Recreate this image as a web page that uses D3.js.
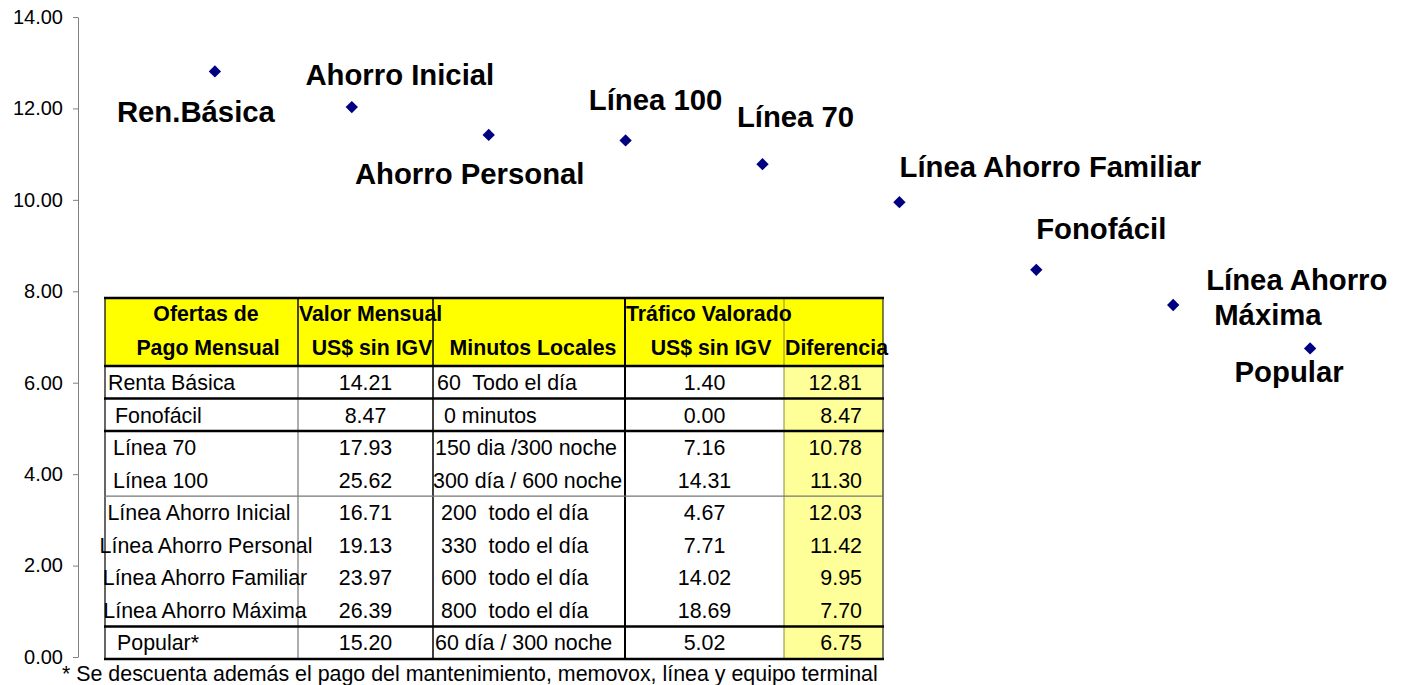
<!DOCTYPE html>
<html>
<head>
<meta charset="utf-8">
<script src="https://cdn.jsdelivr.net/npm/d3@7"></script>
<style>
  body { margin: 0; background: #fff; }
  svg { font-family: "Liberation Sans", Arial, sans-serif; }
  text { white-space: pre; }
</style>
</head>
<body>
<svg width="1405" height="685"></svg>
<script>
// scatter: difference per plan, in descending order
var puntos = ["Ren.Básica", "Ahorro Inicial", "Ahorro Personal", "Línea 100", "Línea 70",
	"Línea Ahorro Familiar", "Fonofácil", "Línea Ahorro|Máxima", "Popular"];
var puntosValor = [12.81, 12.03, 11.42, 11.30, 10.78, 9.95, 8.47, 7.70, 6.75];
var yTicks = [0, 2, 4, 6, 8, 10, 12, 14];

// table
var encabezado1 = ["Ofertas de", "Valor Mensual", "", "Tráfico Valorado", ""];
var encabezado2 = ["Pago Mensual", "US$ sin IGV", "Minutos Locales", "US$ sin IGV", "Diferencia"];
var planes = ["Renta Básica", "Fonofácil", "Línea 70", "Línea 100", "Línea Ahorro Inicial",
	"Línea Ahorro Personal", "Línea Ahorro Familiar", "Línea Ahorro Máxima", "Popular*"];
var valorMensual = [14.21, 8.47, 17.93, 25.62, 16.71, 19.13, 23.97, 26.39, 15.20];
var minutos = ["60  Todo el día", "0 minutos", "150 dia /300 noche", "300 día / 600 noche",
	"200  todo el día", "330  todo el día", "600  todo el día", "800  todo el día", "60 día / 300 noche"];
var trafico = [1.40, 0.00, 7.16, 14.31, 4.67, 7.71, 14.02, 18.69, 5.02];
var diferencia = [12.81, 8.47, 10.78, 11.30, 12.03, 11.42, 9.95, 7.70, 6.75];
var nota = "* Se descuenta además el pago del mantenimiento, memovox, línea y equipo terminal";

// label placement (pixel offsets from each point)
var labelDx = [-19, 48, -19, 30, 33, 151, 65, 33, -21];
var labelDy = [51, -22, 49, -30, -37, -25, -31, -15, 34];

var svg = d3.select("svg");
var fmt = d3.format(".2f");

var x = d3.scaleLinear().domain([0, 10]).range([78, 1447]);
var y = d3.scaleLinear().domain([0, 14]).range([657, 17]);

var yAxis = svg.append("g")
	.attr("transform", "translate(78,0)")
	.call(d3.axisLeft(y).tickValues(yTicks).tickFormat(fmt).tickSize(5).tickSizeOuter(0));
yAxis.select(".domain").attr("stroke", "#808080");
yAxis.selectAll(".tick line").attr("stroke", "#808080");
yAxis.selectAll(".tick text")
	.attr("font-family", "Liberation Sans, Arial")
	.attr("font-size", 20)
	.attr("fill", "#000")
	.attr("x", -15);

// ---- table ----
var colX = [105, 298, 433, 625, 784, 883];
var headTop = 298, bodyTop = 366, bodyBottom = 659;
var row = d3.scaleBand().domain(d3.range(planes.length)).range([bodyTop, bodyBottom]);
var tbl = svg.append("g");

tbl.append("rect").attr("x", colX[0]).attr("y", headTop)
	.attr("width", colX[5] - colX[0]).attr("height", bodyTop - headTop).attr("fill", "#ffff00");
tbl.append("rect").attr("x", colX[4]).attr("y", bodyTop)
	.attr("width", colX[5] - colX[4]).attr("height", bodyBottom - bodyTop).attr("fill", "#ffff99");

// vertical lines
var vStyle = [["#000", 1.2], ["#777", 1.2], ["#000", 1.5], ["#000", 2], ["#8a8a40", 1], ["#000", 1]];
colX.forEach(function(cx, i) {
	tbl.append("line").attr("x1", cx).attr("x2", cx).attr("y1", headTop).attr("y2", bodyBottom)
		.attr("stroke", vStyle[i][0]).attr("stroke-width", vStyle[i][1]);
});
tbl.append("line").attr("x1", colX[1]).attr("x2", colX[1]).attr("y1", headTop).attr("y2", bodyTop)
	.attr("stroke", "#000").attr("stroke-width", 1.2);

// horizontal lines: 2 = thick, 1 = thin gray, 0 = none
var sepAfter = [2, 2, 0, 1, 0, 0, 0, 2, 2];
[headTop, bodyTop].forEach(function(hy) {
	tbl.append("line").attr("x1", colX[0] - 1).attr("x2", colX[5] + 1).attr("y1", hy).attr("y2", hy)
		.attr("stroke", "#000").attr("stroke-width", 2.5);
});
sepAfter.forEach(function(s, i) {
	if (!s) return;
	var ly = row(i) + row.bandwidth();
	tbl.append("line").attr("x1", colX[0] - 1).attr("x2", colX[5] + 1).attr("y1", ly).attr("y2", ly)
		.attr("stroke", s == 2 ? "#000" : "#777").attr("stroke-width", s == 2 ? 2.5 : 1.2);
});

// header text
var headStyle = function(sel) {
	return sel.attr("font-weight", "bold").attr("font-size", 21.3).attr("fill", "#000");
};
var h1X = [206, colX[1] + 1, 0, colX[3] + 1, 0];
var h1A = ["middle", "start", "start", "start", "start"];
encabezado1.forEach(function(t, i) {
	if (!t) return;
	headStyle(tbl.append("text")).attr("x", h1X[i]).attr("y", 321).attr("text-anchor", h1A[i]).text(t);
});
var h2X = [208, 372, 533, 711, colX[4] + 1];
var h2A = ["middle", "middle", "middle", "middle", "start"];
encabezado2.forEach(function(t, i) {
	headStyle(tbl.append("text")).attr("x", h2X[i]).attr("y", 355).attr("text-anchor", h2A[i]).text(t);
});

// body text
var planX = [108, 115, 113, 113, 199, 206, 205, 205, 117];
var planA = ["start", "start", "start", "start", "middle", "middle", "middle", "middle", "start"];
var minX = [437, 444, 435, 433, 441, 441, 441, 441, 435];
var bodyText = function(sel, i) {
	return sel.attr("font-size", 21.4).attr("fill", "#000")
		.attr("y", row(i) + row.bandwidth() / 2).attr("dy", "0.36em");
};
planes.forEach(function(p, i) {
	bodyText(tbl.append("text"), i).attr("x", planX[i]).attr("text-anchor", planA[i]).text(p);
	bodyText(tbl.append("text"), i).attr("x", (colX[1] + colX[2]) / 2).attr("text-anchor", "middle").text(fmt(valorMensual[i]));
	bodyText(tbl.append("text"), i).attr("x", minX[i]).attr("text-anchor", "start").text(minutos[i]);
	bodyText(tbl.append("text"), i).attr("x", (colX[3] + colX[4]) / 2).attr("text-anchor", "middle").text(fmt(trafico[i]));
	bodyText(tbl.append("text"), i).attr("x", 862).attr("text-anchor", "end").text(fmt(diferencia[i]));
});

svg.append("text").attr("x", 62).attr("y", 681).attr("font-size", 21.4).attr("fill", "#000").text(nota);

// ---- points ----
var diamond = d3.symbol().type(d3.symbolSquare).size(76);
var pts = svg.append("g");
puntosValor.forEach(function(v, i) {
	pts.append("path")
		.attr("d", diamond)
		.attr("fill", "#000080")
		.attr("transform", "translate(" + x(i + 1) + "," + y(v) + ") rotate(45)");
	var lines = puntos[i].split("|");
	var lbl = pts.append("text")
		.attr("font-weight", "bold").attr("font-size", 29.3).attr("fill", "#000")
		.attr("text-anchor", lines.length > 1 ? "start" : "middle");
	lines.forEach(function(l, k) {
		lbl.append("tspan")
			.attr("x", x(i + 1) + labelDx[i] + k * 8)
			.attr("y", y(v) + labelDy[i] + k * 35)
			.text(l);
	});
});
</script>
</body>
</html>
